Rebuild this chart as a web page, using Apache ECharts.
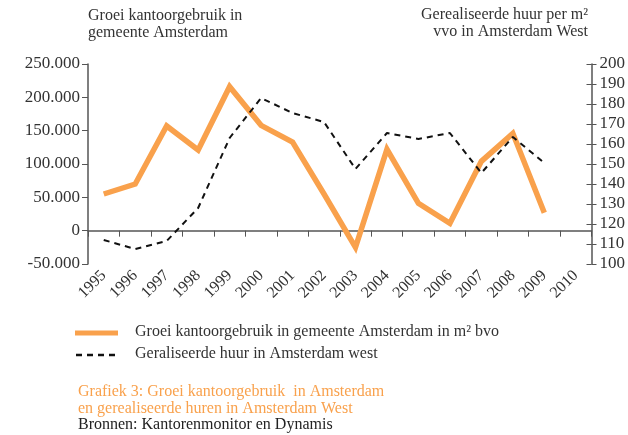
<!DOCTYPE html>
<html>
<head>
<meta charset="utf-8">
<script src="https://cdn.jsdelivr.net/npm/echarts@6/dist/echarts.min.js"></script>
<style>
  html, body { margin: 0; padding: 0; background: #fff; }
  #chart { width: 628px; height: 435px; }
</style>
</head>
<body>
<div id="chart"></div>
<script>
// jaren op de x-as
var years = ['1995','1996','1997','1998','1999','2000','2001','2002','2003','2004','2005','2006','2007','2008','2009','2010'];
// groei kantoorgebruik (m2 bvo), linker as
var groei = [55000, 70000, 157000, 121000, 216000, 158000, 133000, 55000, -25000, 122000, 41000, 11000, 104000, 146000, 27000, null];
// gerealiseerde huur per m2 vvo, rechter as
var huur = [112, 107.5, 111.5, 128, 163, 183, 175.5, 171, 147.5, 165.5, 162.5, 165.5, 145.5, 163.5, 150.5, null];

var serieNamen = ['Groei kantoorgebruik in gemeente Amsterdam in m² bvo', 'Geraliseerde huur in Amsterdam west'];

var serif = 'Liberation Serif';
var textColor = '#333';
var axisColor = '#555';
var orange = '#F9A14C';

var chart = echarts.init(document.getElementById('chart'));

chart.setOption({
  animation: false,
  textStyle: { fontFamily: serif },
  grid: { left: 88, right: 36, top: 64, bottom: 171 },
  graphic: [
    { type: 'text', left: 88, top: 7, style: { text: 'Groei kantoorgebruik in\ngemeente Amsterdam', font: '16px ' + serif, fill: textColor, lineHeight: 17 } },
    { type: 'text', right: 40, top: 7, style: { text: 'Gerealiseerde huur per m²', font: '16px ' + serif, fill: textColor } },
    { type: 'text', right: 40, top: 24, style: { text: 'vvo in Amsterdam West', font: '16px ' + serif, fill: textColor } },
    // legenda
    { type: 'line', shape: { x1: 75, y1: 333, x2: 118, y2: 333 }, style: { stroke: orange, lineWidth: 5 } },
    { type: 'text', left: 135, top: 324, style: { text: serieNamen[0], font: '16px ' + serif, fill: textColor } },
    { type: 'line', shape: { x1: 76, y1: 355, x2: 119, y2: 355 }, style: { stroke: '#111', lineWidth: 2.5, lineDash: [6, 5] } },
    { type: 'text', left: 135, top: 346, style: { text: serieNamen[1], font: '16px ' + serif, fill: textColor } },
    // bijschrift
    { type: 'text', left: 78, top: 383, style: { text: 'Grafiek 3: Groei kantoorgebruik  in Amsterdam\nen gerealiseerde huren in Amsterdam West', font: '16px ' + serif, fill: orange, lineHeight: 17 } },
    { type: 'text', left: 78, top: 417, style: { text: 'Bronnen: Kantorenmonitor en Dynamis', font: '16px ' + serif, fill: '#222' } }
  ],
  xAxis: {
    type: 'category',
    data: years,
    boundaryGap: true,
    axisLine: { lineStyle: { color: axisColor, width: 1.5 } },
    axisTick: { show: true, length: 6, alignWithLabel: false, lineStyle: { color: axisColor } },
    axisLabel: { rotate: 45, fontSize: 16, color: textColor, fontFamily: serif, margin: 9 }
  },
  yAxis: [
    {
      type: 'value',
      min: -50000,
      max: 250000,
      interval: 50000,
      position: 'left',
      splitLine: { show: false },
      axisLine: { show: true, lineStyle: { color: axisColor, width: 1.5 } },
      axisTick: { show: true, length: 6, lineStyle: { color: axisColor } },
      axisLabel: {
        fontSize: 17, color: textColor, fontFamily: serif, margin: 8,
        formatter: function (v) {
          return String(v).replace(/\B(?=(\d{3})+(?!\d))/g, '.');
        }
      }
    },
    {
      type: 'value',
      min: 100,
      max: 200,
      interval: 10,
      position: 'right',
      splitLine: { show: false },
      axisLine: { show: true, lineStyle: { color: axisColor, width: 1.5 } },
      axisTick: { show: true, length: 5, lineStyle: { color: axisColor } },
      axisLabel: { fontSize: 17, color: textColor, fontFamily: serif, margin: 8 }
    },
    {
      // alleen voor de naar binnen wijzende streepjes rechts
      type: 'value',
      min: 100,
      max: 200,
      interval: 10,
      position: 'right',
      splitLine: { show: false },
      axisLine: { show: false },
      axisTick: { show: true, inside: true, length: 5, lineStyle: { color: axisColor } },
      axisLabel: { show: false }
    }
  ],
  series: [
    {
      name: serieNamen[0],
      type: 'line',
      yAxisIndex: 0,
      data: groei,
      symbol: 'none',
      lineStyle: { color: orange, width: 5.5, join: 'miter' },
      itemStyle: { color: orange }
    },
    {
      name: serieNamen[1],
      type: 'line',
      yAxisIndex: 1,
      data: huur,
      symbol: 'none',
      lineStyle: { color: '#111', width: 2, type: [6, 5] },
      itemStyle: { color: '#111' }
    }
  ]
});
</script>
</body>
</html>
